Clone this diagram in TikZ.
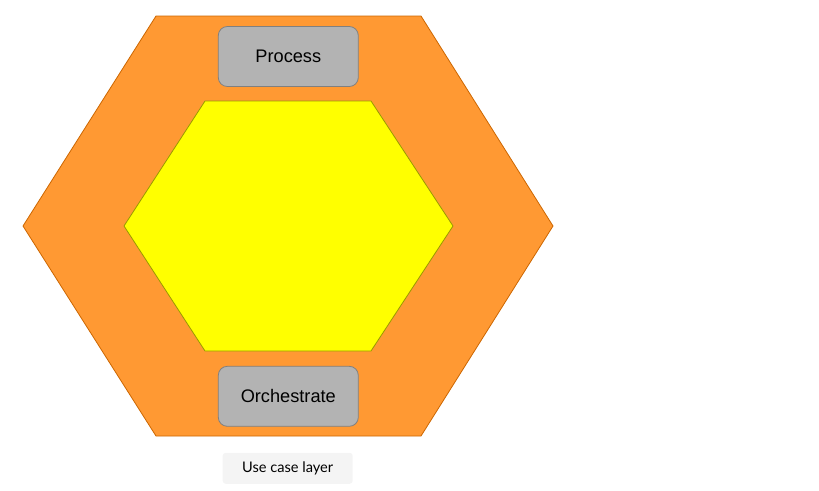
\documentclass[tikz,border=0pt]{standalone}
\usepackage{fontspec}
\setmainfont{Liberation Sans}
\newfontfamily\labelfont{Lato}
\definecolor{orfill}{HTML}{FF9933}
\definecolor{ordraw}{HTML}{CC6600}
\definecolor{yefill}{HTML}{FFFF00}
\definecolor{yedraw}{HTML}{999900}
\definecolor{grfill}{HTML}{B3B3B3}
\definecolor{grdraw}{HTML}{808080}
\definecolor{lbfill}{HTML}{F4F4F4}
\tikzset{
  outerhex/.style={fill=orfill,draw=ordraw,line width=0.8pt},
  innerhex/.style={fill=yefill,draw=yedraw,line width=0.8pt},
  layerbox/.style={fill=grfill,draw=grdraw,line width=0.8pt,rounded corners=9pt,minimum width=140pt,minimum height=60pt,inner sep=0pt,font=\fontsize{18.2pt}{21pt}\selectfont},
  caption/.style={fill=lbfill,rounded corners=3pt,minimum width=130pt,minimum height=31pt,inner sep=0pt,font=\labelfont\fontsize{14.6pt}{17pt}\selectfont}
}
\begin{document}
\begin{tikzpicture}[x=1pt,y=-1pt]
\useasboundingbox (0,0) rectangle (819,490);
\draw[outerhex] (156,16) -- (421,16) -- (553,226) -- (421,436) -- (156,436) -- (23,226) -- cycle;
\draw[innerhex] (205,101) -- (371,101) -- (453,226) -- (371,351) -- (205,351) -- (124,226) -- cycle;
\node[layerbox] (process) at (288.3,56.5) {Process};
\node[layerbox] (orch) at (288.3,396.3) {Orchestrate};
\node[caption] (uc) at (287.7,468.3) {Use case layer};
\end{tikzpicture}
\end{document}
